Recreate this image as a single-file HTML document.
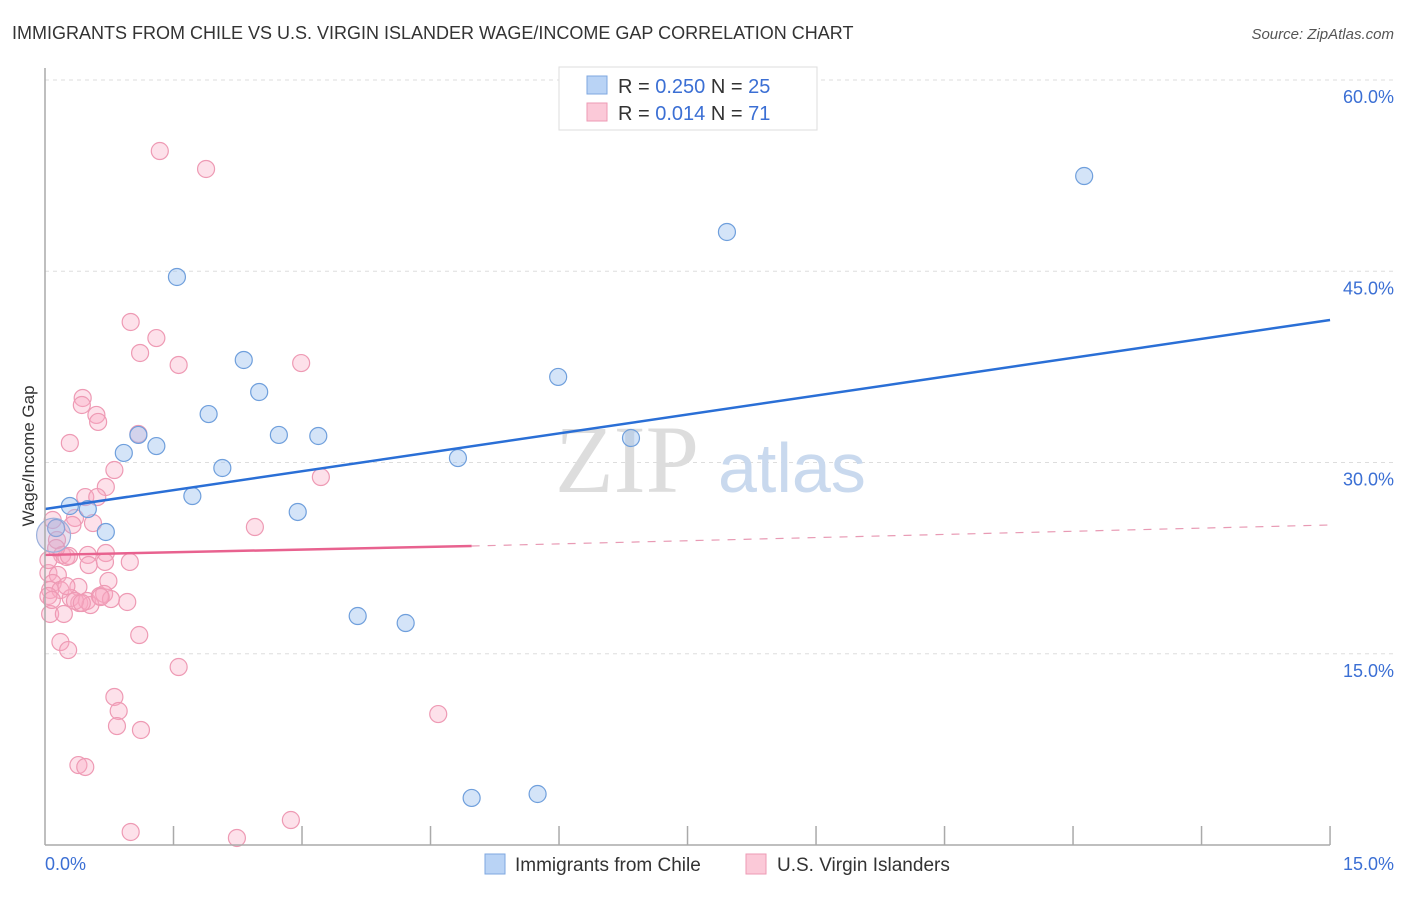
<!DOCTYPE html>
<html><head><meta charset="utf-8"><style>
body{margin:0;background:#fff;font-family:"Liberation Sans",sans-serif}
svg text{font-family:"Liberation Sans",sans-serif}
</style></head><body>
<svg id="chart" width="1406" height="892">
<text x="12" y="39" font-size="18" fill="#333">IMMIGRANTS FROM CHILE VS U.S. VIRGIN ISLANDER WAGE/INCOME GAP CORRELATION CHART</text>
<text x="1394" y="39" font-size="15" fill="#555" font-style="italic" text-anchor="end">Source: ZipAtlas.com</text>
<g id="grid"></g>
<text x="555" y="492" font-size="96" fill="#ddd" font-family="Liberation Serif" style="font-family:'Liberation Serif',serif">ZIP</text>
<text x="718" y="492" font-size="70" fill="#c9d9ee">atlas</text>
<g id="pts"></g>
<g id="lines"></g>
<line x1="45" y1="68" x2="45" y2="845" stroke="#aaa" stroke-width="1.5"/>
<line x1="45" y1="845" x2="1330" y2="845" stroke="#aaa" stroke-width="1.5"/>
<g id="ticks"></g>
<text x="45" y="870" font-size="18" fill="#3b6fd4">0.0%</text>
<text x="1394" y="870" font-size="18" fill="#3b6fd4" text-anchor="end">15.0%</text>
<text transform="translate(34,456) rotate(-90)" font-size="17" fill="#333" text-anchor="middle">Wage/Income Gap</text>
<g>
<rect x="559" y="67" width="258" height="63" fill="#fff" stroke="#ddd"/>
<rect x="587" y="76" width="20" height="18" fill="#b9d3f5" stroke="#7ea7e0"/>
<rect x="587" y="103" width="20" height="18" fill="#fbc9d8" stroke="#ee9ab4"/>
<text x="618" y="93" font-size="20" fill="#333">R = <tspan fill="#3b6fd4">0.250</tspan>   N = <tspan fill="#3b6fd4">25</tspan></text>
<text x="618" y="120" font-size="20" fill="#333">R =  <tspan fill="#3b6fd4">0.014</tspan>   N =  <tspan fill="#3b6fd4">71</tspan></text>
</g>
<g>
<rect x="485" y="854" width="20" height="20" fill="#b9d3f5" stroke="#7ea7e0"/>
<text x="515" y="871" font-size="19" fill="#333">Immigrants from Chile</text>
<rect x="746" y="854" width="20" height="20" fill="#fbc9d8" stroke="#ee9ab4"/>
<text x="777" y="871" font-size="19" fill="#333">U.S. Virgin Islanders</text>
</g>
</svg>
<script>
const yTicks=[15,30,45,60];
const yTickLabels=["15.0%","30.0%","45.0%","60.0%"];
const xTicks=[1.5,3,4.5,6,7.5,9,10.5,12,13.5,15];
const blueX=[12.13,7.96,1.54,2.32,2.50,5.99,1.91,2.73,3.19,1.09,6.84,1.30,0.92,4.82,2.07,1.72,0.29,0.50,2.95,0.71,0.13,3.65,4.21,4.98,5.75];
const blueY=[52.47,48.08,44.55,38.04,35.53,36.71,33.80,32.16,32.08,32.16,31.92,31.29,30.75,30.35,29.57,27.37,26.59,26.35,26.12,24.55,24.86,17.96,17.41,3.69,4.0];
const pinkX=[1.34,1.88,1.00,1.30,1.11,1.56,2.99,0.44,0.43,0.60,0.62,0.29,1.09,0.81,0.71,0.47,0.61,3.22,0.35,0.56,0.32,2.45,0.09,0.14,0.20,0.25,0.28,0.50,0.71,0.70,0.99,0.51,0.04,0.15,0.74,0.39,0.09,0.06,0.18,0.30,0.40,0.49,0.64,0.69,0.96,0.77,0.06,0.22,0.18,0.27,1.10,1.56,0.81,0.86,0.84,1.12,4.59,0.39,0.47,1.00,2.87,2.24,0.04,0.53,0.08,0.25,0.35,0.65,0.43,0.13,0.04];
const pinkY=[54.43,53.02,41.02,39.76,38.59,37.65,37.80,35.06,34.51,33.73,33.18,31.53,32.24,29.41,28.08,27.29,27.29,28.86,25.65,25.25,25.10,24.94,25.49,23.92,22.75,22.59,22.67,22.75,22.90,22.20,22.20,21.96,21.33,21.18,20.71,20.24,20.55,20.00,20.00,19.37,18.98,19.14,19.53,19.69,19.06,19.29,18.12,18.12,15.92,15.29,16.47,13.96,11.61,10.51,9.33,9.02,10.27,6.27,6.12,1.02,1.96,0.55,19.53,18.82,19.22,20.31,19.14,19.45,18.98,23.29,22.35];
const blueTrend=[[0,26.35],[15,41.18]];
const pinkTrendSolid=[[0,22.75],[4.98,23.45]];
const pinkTrendDash=[[4.98,23.45],[15,25.1]];
const NS="http://www.w3.org/2000/svg";
const xs=v=>45+v*85.67, ys=v=>845-v*12.75;
function mk(t,a,p){const e=document.createElementNS(NS,t);for(const k in a)e.setAttribute(k,a[k]);p.appendChild(e);return e;}
const grid=document.getElementById('grid');
yTicks.forEach((t,i)=>{
 const l=mk('line',{x1:45,x2:1394,y1:ys(t),y2:ys(t),stroke:'#ddd','stroke-dasharray':'4,4'},grid);
 
 
 const tx=mk('text',{x:1394,y:ys(t)+23,'font-size':18,fill:'#3b6fd4','text-anchor':'end'},grid);
 tx.textContent=yTickLabels[i];
 
 
});
const tk=document.getElementById('ticks');
xTicks.forEach(t=>{
 const l=mk('line',{x1:xs(t),x2:xs(t),y1:826,y2:845,stroke:'#aaa','stroke-width':1.5},tk);
 
 
});
const pts=document.getElementById('pts');
pinkX.forEach((x,i)=>{
 const c=mk('circle',{cx:xs(x),cy:ys(pinkY[i]),r:8.5,fill:'rgba(248,170,195,0.35)',stroke:'#ee9ab4','stroke-width':1.2},pts);
 
 
});
blueX.forEach((x,i)=>{
 const c=mk('circle',{cx:xs(x),cy:ys(blueY[i]),r:8.5,fill:'rgba(160,195,240,0.45)',stroke:'#6f9fdc','stroke-width':1.2},pts);
 
 
});
const big=mk('circle',{cx:xs(0.1),cy:ys(24.3),r:17,fill:'rgba(190,170,210,0.35)',stroke:'#9ab0dc','stroke-width':1.2},pts);


const lg=document.getElementById('lines');
function ln(p,st,w,dash,name){const l=mk('line',{x1:xs(p[0][0]),y1:ys(p[0][1]),x2:xs(p[1][0]),y2:ys(p[1][1]),stroke:st,'stroke-width':w},lg);if(dash)l.setAttribute('stroke-dasharray',dash);
 
 }
ln(blueTrend,'#2a6fd6',2.5,null,'chile-trend-line');
ln(pinkTrendSolid,'#e8628f',2.5,null,'usvi-trend-line');
ln(pinkTrendDash,'#e89ab4',1.2,'8,8','usvi-trend-extension');
</script>
</body></html>
